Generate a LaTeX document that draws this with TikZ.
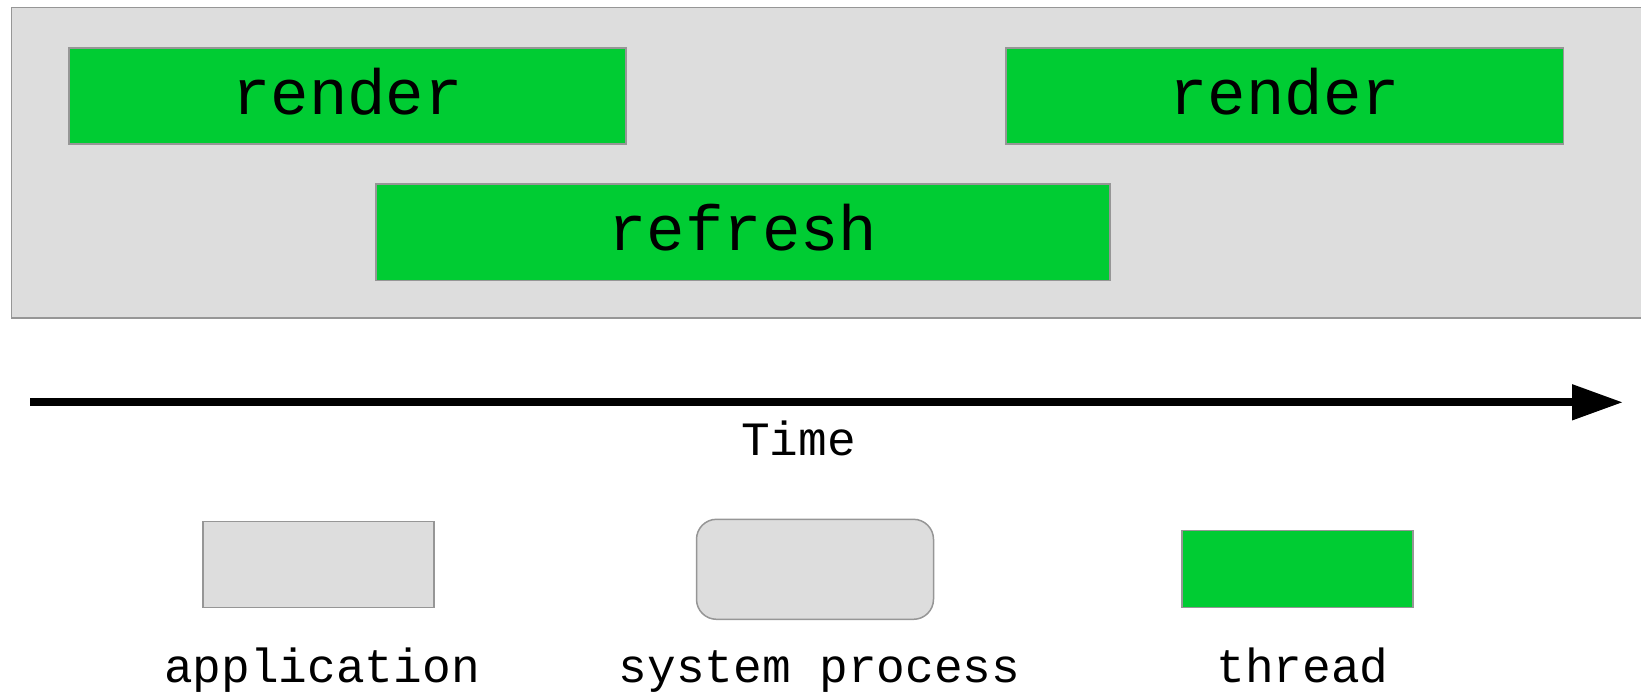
\documentclass[tikz,border=0pt]{standalone}
\usepackage{fontspec}
\setmonofont{Liberation Mono}
\usetikzlibrary{arrows.meta}
\definecolor{threadgreen}{RGB}{0,204,51}
\definecolor{appgray}{RGB}{221,221,221}
\definecolor{edgegray}{RGB}{150,150,150}
\tikzset{
  appbox/.style={rectangle, fill=appgray, draw=edgegray, line width=1.5pt, inner sep=0pt},
  procbox/.style={appbox, rounded corners=20pt},
  threadbox/.style={rectangle, fill=threadgreen, draw=edgegray, line width=1.5pt, inner sep=0pt,
    font=\ttfamily\fontsize{64}{70}\selectfont, text height=46.6pt, text depth=10pt},
  biglabel/.style={anchor=base, inner sep=0pt, font=\ttfamily\fontsize{47.8}{53}\selectfont},
  timeline/.style={line width=8pt, -{Triangle[length=51pt,width=34pt]}}
}
\begin{document}
\begin{tikzpicture}[x=1pt,y=-1pt]
\useasboundingbox (0,0) rectangle (1641,693);
\clip (0,0) rectangle (1641,693);

% application frame holding the threads
\node[appbox, minimum width=1648.5pt, minimum height=310.7pt] (frame) at (835.75,162.65) {};

% threads
\node[threadbox, minimum width=557pt, minimum height=96pt] (render1) at (347.5,96.2) {render};
\node[threadbox, minimum width=557.5pt, minimum height=96pt] (render2) at (1284.75,96.2) {render};
\node[threadbox, minimum width=734pt, minimum height=96.7pt] (refresh) at (743,232.3) {refresh};

% time axis
\coordinate (tstart) at (30,402.3);
\coordinate (tend) at (1623,402.3);
\draw[timeline] (tstart) -- (tend);
\node[biglabel] (time) at (798.5,455) {Time};

% legend
\node[appbox, minimum width=231pt, minimum height=86pt] (legapp) at (318.5,564.7) {};
\node[procbox, minimum width=237pt, minimum height=100pt] (legproc) at (815,569.3) {};
\node[threadbox, minimum width=231pt, minimum height=77pt] (legthread) at (1297.5,569.2) {};

\node[biglabel] (lblapp) at (322,682) {application};
\node[biglabel] (lblproc) at (819.5,682) {system process};
\node[biglabel] (lblthread) at (1302.5,682) {thread};
\end{tikzpicture}
\end{document}
